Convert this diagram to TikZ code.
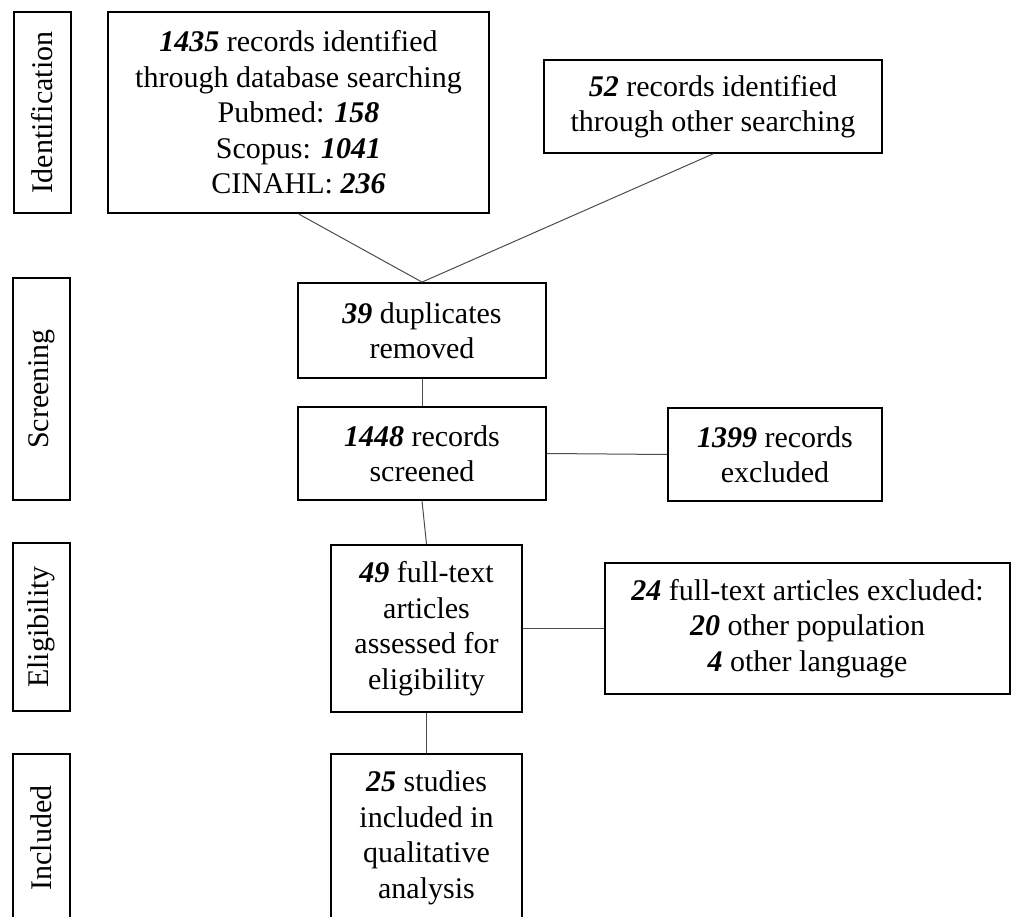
\documentclass[tikz,border=0pt]{standalone}
\usepackage{fontspec}
\setmainfont{Liberation Serif}
\newcommand{\bn}[1]{\textbf{\textit{#1}}}
\begin{document}
\begin{tikzpicture}[x=1pt,y=-1pt,
  box/.style={draw=black,line width=1.8pt,inner sep=0pt,align=center,
    font=\fontsize{30}{35.5}\selectfont},
  side/.style={box,rotate=90,minimum height=57pt},
  link/.style={line width=1pt,draw=black!70}]
\useasboundingbox (0,0) rectangle (1012,917);
\begin{scope}
\clip (0,0) rectangle (1012,917);
% stage labels
\node[side,minimum width=201pt] (s1) at (42.5,112.5) {Identification};
\node[side,minimum width=222pt] (s2) at (41.5,389) {Screening};
\node[side,minimum width=168pt] (s3) at (41.5,627) {Eligibility};
\node[side,minimum width=168pt] (s4) at (41.5,838) {Included};
% flow boxes
\node[box,minimum width=381pt,minimum height=201pt] (b1) at (298.5,112.5)
  {\bn{1435} records identified\\through database searching\\Pubmed: \bn{158}\\Scopus: \bn{1041}\\CINAHL: \bn{236}};
\node[box,minimum width=338pt,minimum height=93pt] (b2) at (713,106.5)
  {\bn{52} records identified\\through other searching};
\node[box,minimum width=248pt,minimum height=95pt] (b3) at (422,330.5)
  {\bn{39} duplicates\\removed};
\node[box,minimum width=248pt,minimum height=93pt] (b4) at (422,453.5)
  {\bn{1448} records\\screened};
\node[box,minimum width=214pt,minimum height=93pt] (b5) at (775,454.5)
  {\bn{1399} records\\excluded};
\node[box,minimum width=191pt,minimum height=167pt] (b6) at (426.5,628.5)
  {\bn{49} full-text\\articles\\assessed for\\eligibility};
\node[box,minimum width=405pt,minimum height=131pt] (b7) at (807.5,628.5)
  {\bn{24} full-text articles excluded:\\\bn{20} other population\\\bn{4} other language};
\node[box,minimum width=191pt,minimum height=168pt] (b8) at (426.5,838)
  {\bn{25} studies\\included in\\qualitative\\analysis};
% connectors
\draw[link] (b1.south) -- (b3.north);
\draw[link] (b2.south) -- (b3.north);
\draw[link] (b3.south) -- (b4.north);
\draw[link] (b4.east) -- (b5.west);
\draw[link] (b4.south) -- (b6.north);
\draw[link] (b6.east) -- (b7.west);
\draw[link] (b6.south) -- (b8.north);
\end{scope}
\end{tikzpicture}
\end{document}
